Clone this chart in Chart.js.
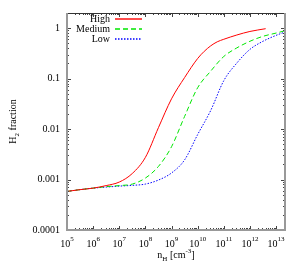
<!DOCTYPE html>
<html>
<head>
<meta charset="utf-8">
<script src="https://cdn.jsdelivr.net/npm/chart.js@4"></script>
<style>
  body { margin: 0; background: #fff; }
  canvas { display: block; }
</style>
</head>
<body>
<canvas id="h2chart" width="300" height="273"></canvas>
<script>
// densities n_H [cm^-3] and H2 fractions
const highN = [1e5, 3.16e5, 1e6, 3.16e6, 1e7, 3.16e7, 1e8, 3.16e8, 1e9, 3.16e9, 1e10, 1.78e10, 3.16e10, 5.62e10, 1e11, 3.16e11, 1e12, 4e12];
const highF = [5.82e-4, 6.31e-4, 6.76e-4, 7.59e-4, 8.91e-4, 1.32e-3, 2.75e-3, 0.0107, 0.0398, 0.105, 0.251, 0.347, 0.447, 0.537, 0.603, 0.733, 0.861, 0.977];

const mediumN = [1e5, 3.16e5, 1e6, 3.16e6, 1e7, 3.16e7, 1e8, 3.16e8, 1e9, 3.16e9, 1e10, 3.16e10, 1e11, 3.16e11, 1e12, 3.16e12, 1e13, 2.2e13];
const mediumF = [5.82e-4, 6.31e-4, 6.76e-4, 7.24e-4, 7.59e-4, 8.13e-4, 1.07e-3, 1.82e-3, 4.47e-3, 0.0178, 0.0661, 0.141, 0.275, 0.407, 0.55, 0.69, 0.8, 0.89];

const lowN = [1e5, 3.16e5, 1e6, 3.16e6, 1e7, 3.16e7, 1e8, 3.16e8, 1e9, 3.16e9, 1e10, 3.16e10, 1e11, 3.16e11, 1e12, 3.16e12, 1e13, 2.2e13];
const lowF = [5.82e-4, 6.31e-4, 6.76e-4, 7.08e-4, 7.41e-4, 7.67e-4, 8.13e-4, 9.77e-4, 1.35e-3, 2.45e-3, 7.8e-3, 0.0234, 0.0912, 0.204, 0.38, 0.55, 0.72, 0.84];

const seriesNames = ["High", "Medium", "Low"];
const seriesColors = ["#ff0000", "#00e600", "#0000ff"];
const seriesDash = [[], [5, 3], [1.5, 1.5]];
const xTickExps = [5, 6, 7, 8, 9, 10, 11, 12, 13];
const yTickValues = [1e-4, 1e-3, 1e-2, 0.1, 1];
const yTickLabels = ["0.0001", "0.001", "0.01", "0.1", "1"];

const FONT = "'Liberation Serif', 'Times New Roman', serif";

function pts(xs, ys) {
  return xs.map((x, i) => ({x: x, y: ys[i]}));
}

// draw text made of pieces (normal / sub / sup), centred on x
function richText(ctx, parts, x, y) {
  let w = 0;
  parts.forEach(p => {
    ctx.font = p.size + "px " + FONT;
    p.w = ctx.measureText(p.t).width;
    w += p.w;
  });
  let cx = x - w / 2;
  ctx.textAlign = "left";
  ctx.textBaseline = "alphabetic";
  parts.forEach(p => {
    ctx.font = p.size + "px " + FONT;
    ctx.fillText(p.t, cx, y + (p.dy || 0));
    cx += p.w;
  });
}

const gnuplotFrame = {
  id: "gnuplotFrame",
  afterDraw(chart) {
    const ctx = chart.ctx;
    const a = chart.chartArea;
    const xs = chart.scales.x, ys = chart.scales.y;
    ctx.save();

    // tick marks, inward on all four sides
    ctx.strokeStyle = "#444";
    ctx.lineWidth = 1;
    ctx.beginPath();
    for (let e = 5; e <= 13; e++) {
      for (let m = 1; m <= 9; m++) {
        const v = m * Math.pow(10, e);
        if (v > xs.max) break;
        const px = Math.round(xs.getPixelForValue(v)) + 0.5;
        const len = m === 1 ? 4 : 2;
        ctx.moveTo(px, a.bottom); ctx.lineTo(px, a.bottom - len);
        ctx.moveTo(px, a.top); ctx.lineTo(px, a.top + len);
      }
    }
    for (let e = -4; e <= 0; e++) {
      for (let m = 1; m <= 9; m++) {
        const v = m * Math.pow(10, e);
        if (v > ys.max) break;
        const py = Math.round(ys.getPixelForValue(v)) + 0.5;
        const len = m === 1 ? 4 : 2;
        ctx.moveTo(a.left, py); ctx.lineTo(a.left + len, py);
        ctx.moveTo(a.right, py); ctx.lineTo(a.right - len, py);
      }
    }
    ctx.stroke();

    // border
    ctx.strokeStyle = "#333";
    ctx.lineWidth = 1;
    ctx.beginPath();
    ctx.moveTo(a.left, a.top + 0.5); ctx.lineTo(a.right, a.top + 0.5);
    ctx.stroke();
    ctx.strokeStyle = "#999";
    ctx.lineWidth = 2;
    ctx.beginPath();
    ctx.moveTo(a.left, a.top); ctx.lineTo(a.left, a.bottom);
    ctx.lineTo(a.right, a.bottom); ctx.lineTo(a.right, a.top);
    ctx.stroke();

    // x tick labels 10^k
    ctx.fillStyle = "#000";
    xTickExps.forEach(k => {
      const px = xs.getPixelForValue(Math.pow(10, k));
      richText(ctx, [{t: "10", size: 10}, {t: String(k), size: 7, dy: -6}], px, 247);
    });

    // axis titles
    richText(ctx, [
      {t: "n", size: 10}, {t: "H", size: 7, dy: 3},
      {t: " [cm", size: 10}, {t: "-3", size: 7, dy: -5}, {t: "]", size: 10}
    ], (a.left + a.right) / 2, 258);

    ctx.save();
    ctx.translate(16, (a.top + a.bottom) / 2);
    ctx.rotate(-Math.PI / 2);
    richText(ctx, [{t: "H", size: 10}, {t: "2", size: 7, dy: 3}, {t: " fraction", size: 10}], 0, 0);
    ctx.restore();

    // key: text right-aligned, sample line to its right
    const rows = [19, 29, 39];
    seriesNames.forEach((name, i) => {
      const y = rows[i];
      ctx.font = "10px " + FONT;
      ctx.fillStyle = "#000";
      ctx.textAlign = "right";
      ctx.textBaseline = "middle";
      ctx.fillText(name, 110, y);
      ctx.strokeStyle = seriesColors[i];
      ctx.lineWidth = 1.4;
      ctx.setLineDash(seriesDash[i]);
      ctx.beginPath();
      ctx.moveTo(115, y); ctx.lineTo(142, y);
      ctx.stroke();
      ctx.setLineDash([]);
    });

    ctx.restore();
  }
};

new Chart(document.getElementById("h2chart"), {
  type: "line",
  data: {
    datasets: [
      {label: seriesNames[0], data: pts(highN, highF), borderColor: seriesColors[0], borderWidth: 1, borderDash: seriesDash[0]},
      {label: seriesNames[1], data: pts(mediumN, mediumF), borderColor: seriesColors[1], borderWidth: 1, borderDash: seriesDash[1]},
      {label: seriesNames[2], data: pts(lowN, lowF), borderColor: seriesColors[2], borderWidth: 1, borderDash: seriesDash[2]}
    ]
  },
  options: {
    responsive: false,
    animation: false,
    devicePixelRatio: 1,
    layout: {padding: {left: 5, right: 15, top: 12, bottom: 0}},
    elements: {
      point: {radius: 0},
      line: {cubicInterpolationMode: "monotone", fill: false}
    },
    scales: {
      x: {
        type: "logarithmic",
        min: 1e5,
        max: 2.2e13,
        grid: {display: false, drawTicks: false},
        border: {display: false},
        ticks: {display: false},
        afterFit: s => { s.height = 43; }
      },
      y: {
        type: "logarithmic",
        min: 1e-4,
        max: 2,
        grid: {display: false, drawTicks: false},
        border: {display: false},
        afterBuildTicks: s => { s.ticks = yTickValues.map(v => ({value: v})); },
        ticks: {
          autoSkip: false,
          padding: 7,
          color: "#000",
          font: {family: FONT, size: 10},
          callback: (v, i) => yTickLabels[i]
        },
        afterFit: s => { s.width = 62; }
      }
    },
    plugins: {
      legend: {display: false},
      tooltip: {enabled: false}
    }
  },
  plugins: [gnuplotFrame]
});
</script>
</body>
</html>
